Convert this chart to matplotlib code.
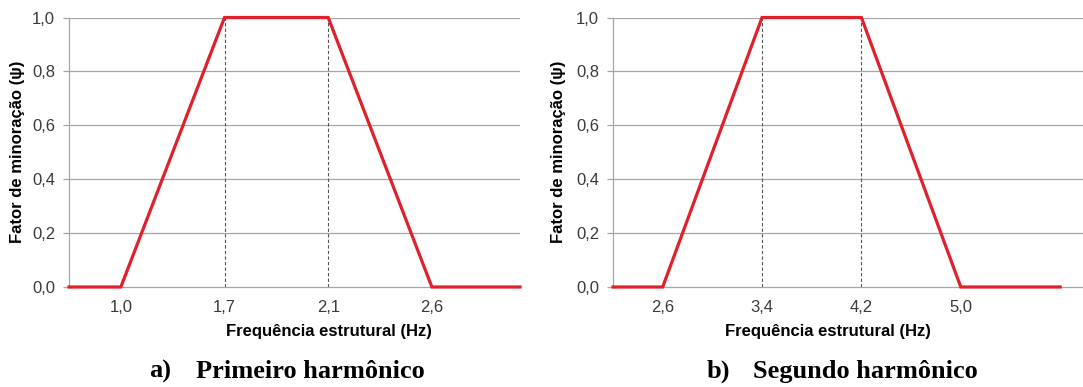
import matplotlib
matplotlib.use("Agg")
import matplotlib.pyplot as plt

# Data (category positions; labels are the frequencies)
pos_a = [-0.5, 0, 1, 2, 3, 3.85]
psi_a = [0.0, 0.0, 1.0, 1.0, 0.0, 0.0]
ticks_a = ["1,0", "1,7", "2,1", "2,6"]

pos_b = [-0.5, 0, 1, 2, 3, 4]
psi_b = [0.0, 0.0, 1.0, 1.0, 0.0, 0.0]
ticks_b = ["2,6", "3,4", "4,2", "5,0"]

y_ticks = [0.0, 0.2, 0.4, 0.6, 0.8, 1.0]
y_labels = ["0,0", "0,2", "0,4", "0,6", "0,8", "1,0"]
dashed_at = [1, 2]

W, H = 1083, 387
fig = plt.figure(figsize=(W / 100, H / 100), dpi=100)

sans = "Liberation Sans"
serif = "Liberation Serif"
grid_c = "#a6a6a6"
red = "#e0202a"
tick_c = "#3a3a3a"


def make(ax, pos, psi, ticks, xlim, ylab_x, xlab_x, cap_a, cap_b, cap_x1, cap_x2):
    ax.set_xlim(*xlim)
    ax.set_ylim(0, 1.0)
    for y in y_ticks[1:]:
        ax.axhline(y, color=grid_c, lw=0.9, zorder=1)
    for d in dashed_at:
        ax.plot([d, d], [0, 1], color="#555555", lw=0.8, ls=(0, (3, 2)), zorder=2)
    ax.plot(pos, psi, color=red, lw=2.3, zorder=3, solid_joinstyle="miter", clip_on=False)
    ax.set_xticks(range(len(ticks)))
    ax.set_xticklabels(ticks, fontfamily=sans, fontsize=12, color=tick_c)
    ax.set_yticks(y_ticks)
    ax.set_yticklabels(y_labels, fontfamily=sans, fontsize=12, color=tick_c)
    ax.tick_params(axis="x", length=0, pad=9.5)
    ax.tick_params(axis="y", length=4, color=grid_c, width=0.9, pad=6)
    for s in ["top", "right"]:
        ax.spines[s].set_visible(False)
    ax.spines["left"].set_color(grid_c)
    ax.spines["bottom"].set_color(grid_c)
    ax.spines["left"].set_linewidth(0.9)
    ax.spines["bottom"].set_linewidth(0.9)
    ax.set_ylabel("Fator de minoração (ψ)", fontfamily=[sans, "DejaVu Sans"],
                  fontsize=12, fontweight="bold", va="center")
    ax.yaxis.set_label_coords(ylab_x, 0.5)
    ax.set_xlabel("Frequência estrutural (Hz)", fontfamily=sans, fontsize=12,
                  fontweight="bold", va="center")
    ax.xaxis.set_label_coords(xlab_x, -0.165)
    fig.text(cap_x1 / W, 1 - 378 / H, cap_a, fontfamily=serif, fontsize=19,
             fontweight="bold", va="baseline", ha="left")
    fig.text(cap_x2 / W, 1 - 378 / H, cap_b, fontfamily=serif, fontsize=19,
             fontweight="bold", va="baseline", ha="left")


y0, y1 = 287.0, 17.5
axa = fig.add_axes([69 / W, 1 - y0 / H, (520 - 69) / W, (y0 - y1) / H])
make(axa, pos_a, psi_a, ticks_a, (-0.5, 3.85), (18 - 69) / 451, (329 - 69) / 451,
     "a)", "Primeiro harmônico", 149, 196)

axb = fig.add_axes([613 / W, 1 - y0 / H, (1083 - 613) / W, (y0 - y1) / H])
make(axb, pos_b, psi_b, ticks_b, (-0.5, 4.23), (559 - 613) / 470, (828 - 613) / 470,
     "b)", "Segundo harmônico", 707, 753)

fig.savefig("out.png", dpi=100)
